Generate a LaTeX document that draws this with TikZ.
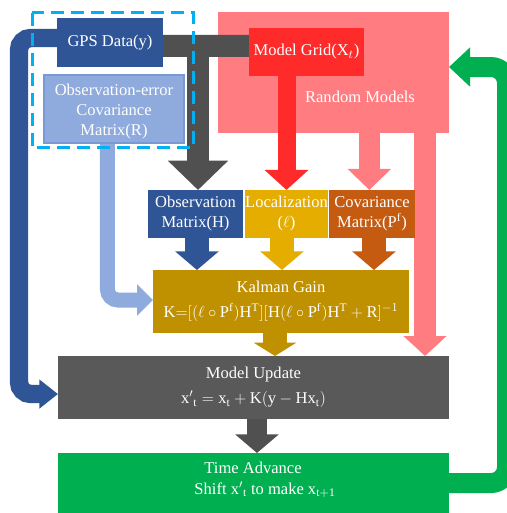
\documentclass[tikz,border=0pt]{standalone}
\usepackage{fontspec}
\setmainfont{Liberation Serif}
\usetikzlibrary{arrows.meta}
\definecolor{gpsblue}{HTML}{2F5597}
\definecolor{lblue}{HTML}{8FAADC}
\definecolor{lbluedark}{HTML}{7A98D2}
\definecolor{cyanfr}{HTML}{00B0F0}
\definecolor{bandgray}{HTML}{505050}
\definecolor{mugray}{HTML}{595959}
\definecolor{gridred}{HTML}{FF2B2B}
\definecolor{salmon}{HTML}{FF7C80}
\definecolor{locgold}{HTML}{E5AD00}
\definecolor{covorange}{HTML}{C55A11}
\definecolor{kalgold}{HTML}{BF9000}
\definecolor{tagreen}{HTML}{00B050}
\pgfdeclarelayer{back}
\pgfdeclarelayer{mid}
\pgfsetlayers{back,mid,main}
\begin{document}
\begin{tikzpicture}[x=0.75pt,y=-0.75pt,
  box/.style={rectangle, inner sep=0pt, outer sep=0pt, text=white, align=center,
    font=\fontsize{12.4}{15}\selectfont},
  sz/.style 2 args={minimum width=#1*0.75pt, minimum height=#2*0.75pt},
  txt/.style={inner sep=0pt, text=white, align=center, font=\fontsize{12.4}{15}\selectfont},
]
\useasboundingbox (0,0) rectangle (506,513);

% boxes
\begin{pgfonlayer}{back}
\node[box, fill=salmon, sz={231}{121}] (rm) at (333.5,72.5) {};
\end{pgfonlayer}
\node[txt] (rml) at (360,97) {Random Models};
\node[box, fill=gpsblue, sz={106}{49}] (gps) at (110,42.5) {GPS Data(y)};
\node[box, fill=gridred, sz={115}{48}] (mg) at (306.5,52) {Model Grid(X$_{t}$)};
\node[box, fill=lblue, draw=lbluedark, line width=0.8pt, sz={140}{68}] (oe) at (114,109) {};
\node[txt] (oet) at (114,112) {Observation-error\\Covariance\\Matrix(R)};
\node[box, fill=gpsblue, sz={95}{48}] (om) at (195.5,214) {Observation\\Matrix(H)};
\node[box, fill=locgold, sz={83}{48}] (lo) at (286.5,214) {Localization\\($\ell$)};
\node[box, fill=covorange, sz={86}{48}] (cm) at (372,214) {Covariance\\Matrix(P$^{\mathrm{f}}$)};
\node[box, fill=kalgold, sz={256}{63}, font=\fontsize{12.4}{18.75}\selectfont] (kg) at (281,301.5)
  {Kalman Gain\\$\mathrm{K}{=}[(\ell\circ\mathrm{P^f})\mathrm{H^T}][\mathrm{H}(\ell\circ\mathrm{P^f})\mathrm{H^T}+\mathrm{R}]^{-1}$};
\node[box, fill=mugray, sz={391}{63}, font=\fontsize{12.4}{18.75}\selectfont] (mu) at (253.5,387.5)
  {Model Update\\$\mathrm{{x'}_t=x_t+K(y-Hx_t)}$};
\node[box, fill=tagreen, sz={391}{67}] (ta) at (253.5,486.5) {};
\node[txt] (tat1) at (253,468) {Time Advance};
\node[txt] (tat2) at (265,490) {Shift $\mathrm{{x'}_t}$ to make $\mathrm{x_{t+1}}$};

\coordinate (gj) at (198,35);
\coordinate (s2) at (425,0);

\begin{pgfonlayer}{mid}
% gray band GPS -> Model Grid and down to Observation Matrix
\draw[bandgray, line width=16.5pt] ([yshift=-2.6pt]gps.east) -- ([yshift=4.5pt]mg.west);
\draw[bandgray, line width=16.5pt, -{Triangle[width=44pt,length=22pt]}] (gj) -- (gj |- om.north);
% blue loop GPS -> Model Update
\draw[gpsblue, line width=13.8pt, rounded corners=9pt, -{Triangle[width=21pt,length=14pt]}]
  ([yshift=3.4pt]gps.west) -- ++(-38,0) |- ([yshift=-4.9pt]mu.west);
% light blue R -> Kalman
\draw[lblue, line width=11.25pt, rounded corners=8pt, -{Triangle[width=23pt,length=12pt]}]
  ([xshift=-4.9pt]oe.south) |- ([yshift=1.1pt]kg.west);
% red Model Grid -> Localization
\draw[gridred, line width=13.5pt, -{Triangle[width=32pt,length=15pt]}] (lo.north |- mg.south) -- (lo.north);
% salmon Random Models -> Covariance
\draw[salmon, line width=15.75pt, -{Triangle[width=31.5pt,length=15.75pt]}]
  ([xshift=-2pt]cm.north |- rm.south) -- ([xshift=-2pt]cm.north);
% salmon Random Models -> Model Update
\draw[salmon, line width=16.5pt, -{Triangle[width=31.5pt,length=15pt]}] (rm.south -| s2) -- (mu.north -| s2);
% three into Kalman
\draw[gpsblue, line width=18pt, -{Triangle[width=32pt,length=14pt]}] ([xshift=1.1pt]om.south) -- ([xshift=1.1pt]om.south |- kg.north);
\draw[locgold, line width=18pt, -{Triangle[width=32pt,length=14pt]}] ([xshift=-3.4pt]lo.south) -- ([xshift=-3.4pt]lo.south |- kg.north);
\draw[covorange, line width=18pt, -{Triangle[width=32pt,length=14pt]}] ([xshift=1.5pt]cm.south) -- ([xshift=1.5pt]cm.south |- kg.north);
% Kalman -> Model Update
\draw[kalgold, line width=18pt, -{Triangle[width=31.5pt,length=10pt]}] ([xshift=-4.5pt]kg.south) -- ([xshift=-4.5pt]kg.south |- mu.north);
% Model Update -> Time Advance
\draw[bandgray, line width=15pt, -{Triangle[width=32pt,length=14pt]}] ([xshift=2.6pt]mu.south) -- ([xshift=2.6pt]mu.south |- ta.north);
% green loop Time Advance -> Random Models
\draw[tagreen, line width=15pt, rounded corners=12pt, -{Triangle[width=28.5pt,length=15.75pt]}]
  ([yshift=2.6pt]ta.east) -- ++(58,0) |- ([yshift=4.1pt]rm.east);
\end{pgfonlayer}

% dashed group frame
\draw[cyanfr, line width=2.25pt, dash pattern=on 9.75pt off 5.25pt] (32,13) rectangle (193,148);
\end{tikzpicture}
\end{document}
